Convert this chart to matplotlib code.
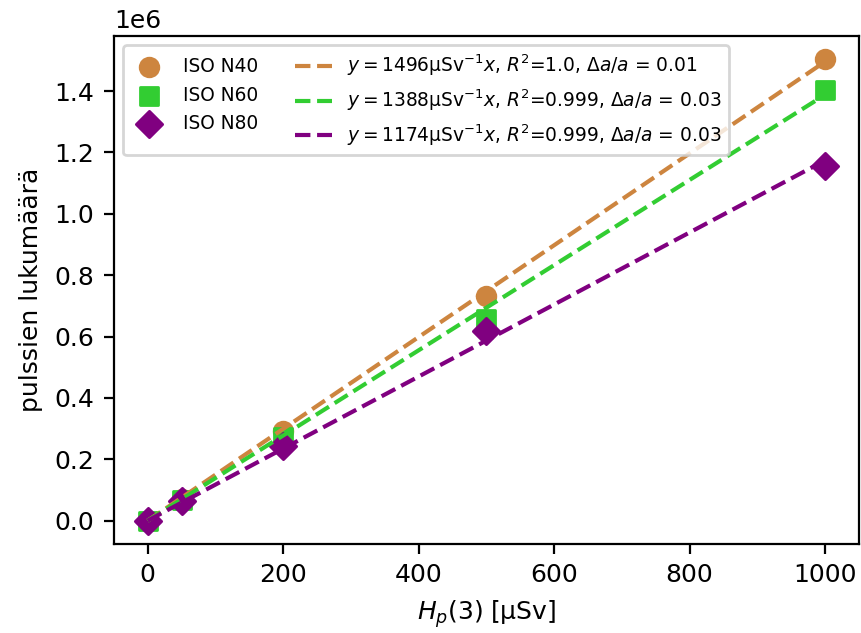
import numpy as np
import matplotlib.pyplot as plt

dose = np.array([0, 50, 200, 500, 1000])
n40 = np.array([0, 70000, 293000, 733000, 1504000])
n60 = np.array([0, 66000, 272000, 658000, 1403000])
n80 = np.array([0, 64000, 244000, 619000, 1156000])
slopes = [1496, 1388, 1174]
r2 = ['1.0', '0.999', '0.999']
rel = ['0.01', '0.03', '0.03']
names = ['ISO N40', 'ISO N60', 'ISO N80']
colors = ['peru', 'limegreen', 'purple']
markers = ['o', 's', 'D']

plt.rcParams['font.size'] = 9

fig, ax = plt.subplots(figsize=(862/200, 633/200), dpi=200)
fig.subplots_adjust(left=0.132, right=0.9965, top=0.943, bottom=0.141)

for y, name, c, m in zip([n40, n60, n80], names, colors, markers):
	ax.scatter(dose, y, color=c, marker=m, s=45, label=name, zorder=2)

for a, r, d, c in zip(slopes, r2, rel, colors):
	lab = r'$y = %d\mathrm{\mu Sv^{-1}}x$, $R^2$=%s, $\Delta a/a$ = %s' % (a, r, d)
	ax.plot(dose, a * dose, '--', color=c, lw=1.5, label=lab, zorder=3)

ax.set_xlabel(r'$H_p(3)$ [µSv]')
ax.set_ylabel('pulssien lukumäärä')
ax.legend(ncol=2, loc='upper left', fontsize=6.7)

fig.savefig('out.png')
